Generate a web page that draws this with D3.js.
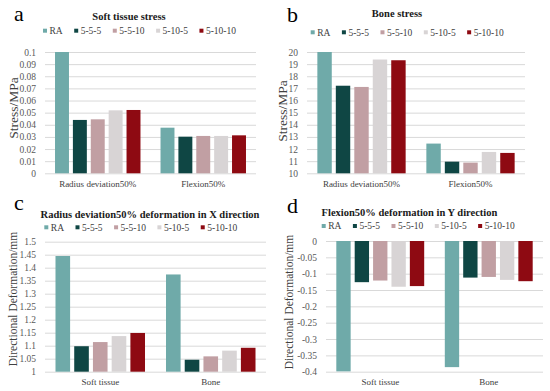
<!DOCTYPE html>
<html>
<head>
<meta charset="utf-8">
<script src="https://cdn.jsdelivr.net/npm/d3@7/dist/d3.min.js"></script>
<style>
  html, body { margin: 0; padding: 0; background: #fff; }
  svg { display: block; }
  svg text { font-family: "Liberation Serif", "Times New Roman", serif; }
</style>
</head>
<body>
<div id="chart"></div>
<script>
// series shared by all four panels
const series = ['RA', '5-5-5', '5-5-10', '5-10-5', '5-10-10'];
const seriesColors = ['#6faaa9', '#0f4644', '#c19fa3', '#d8d4d5', '#8e0a12'];

// a / b : stress per load case
const stressCategories = ['Radius deviation50%', 'Flexion50%'];
const softTissueStress = [
  [0.1, 0.044, 0.0445, 0.0519, 0.0522],
  [0.0376, 0.0302, 0.0308, 0.0308, 0.0313]
];
const boneStress = [
  [20.0, 17.22, 17.12, 19.38, 19.32],
  [12.45, 10.96, 10.88, 11.76, 11.68]
];

// c / d : deformation per tissue
const deformCategories = ['Soft tissue', 'Bone'];
const deformX = [
  [1.445, 1.098, 1.114, 1.137, 1.149],
  [1.374, 1.046, 1.059, 1.081, 1.092]
];
const deformY = [
  [-0.399, -0.126, -0.121, -0.140, -0.138],
  [-0.386, -0.112, -0.110, -0.119, -0.123]
];

// tick labels
const softTicks = [0, 0.01, 0.02, 0.03, 0.04, 0.05, 0.06, 0.07, 0.08, 0.09, 0.1];
const boneTicks = [10, 11, 12, 13, 14, 15, 16, 17, 18, 19, 20];
const deformXTicks = [1, 1.05, 1.1, 1.15, 1.2, 1.25, 1.3, 1.35, 1.4, 1.45, 1.5];
const deformYTicks = [0, -0.05, -0.1, -0.15, -0.2, -0.25, -0.3, -0.35, -0.4];

const svg = d3.select('#chart').append('svg')
    .attr('width', 550)
    .attr('height', 391);

svg.append('rect').attr('width', 550).attr('height', 391).attr('fill', '#fff');

const fmt = (v) => String(+v.toFixed(3));

function drawPanel(p) {
  const g = svg.append('g');

  const y = d3.scaleLinear()
      .domain(d3.extent(p.ticks))
      .range([p.bottom, p.top]);

  const x0 = d3.scaleBand()
      .domain(p.categories)
      .range([p.left, p.right]);
  const bw = x0.bandwidth();
  const x1 = d3.scaleBand()
      .domain(series)
      .range([bw * 0.095, bw * 0.905])
      .paddingInner(0.22);

  // gridlines
  g.append('g')
      .attr('transform', `translate(${p.left},0)`)
      .call(d3.axisLeft(y).tickValues(p.ticks).tickSize(-(p.right - p.left)).tickFormat(''))
      .call(s => s.select('.domain').remove())
      .call(s => s.selectAll('line').attr('stroke', '#d9d9d9').attr('stroke-width', 1));

  // tick labels
  g.append('g')
      .attr('transform', `translate(${p.left - 9},0)`)
      .call(d3.axisLeft(y).tickValues(p.ticks).tickSize(0).tickPadding(0).tickFormat(fmt))
      .attr('font-family', null)
      .attr('font-size', '9.5')
      .call(s => s.select('.domain').remove())
      .call(s => s.selectAll('text').attr('fill', '#595959'));

  // bars
  const base = y(p.base);
  p.categories.forEach((cat, ci) => {
    g.append('g')
        .attr('transform', `translate(${x0(cat)},0)`)
      .selectAll('rect')
      .data(p.values[ci])
      .join('rect')
        .attr('x', (d, i) => x1(series[i]))
        .attr('width', x1.bandwidth())
        .attr('y', d => Math.min(y(d), base))
        .attr('height', d => Math.abs(y(d) - base))
        .attr('fill', (d, i) => seriesColors[i]);
  });

  // category labels
  g.append('g')
      .attr('transform', `translate(0,${p.bottom})`)
      .call(d3.axisBottom(x0).tickSize(0).tickPadding(p.catPad))
      .attr('font-family', null)
      .attr('font-size', '9')
      .call(s => s.select('.domain').remove())
      .call(s => s.selectAll('text').attr('fill', '#404040'));

  // y axis title
  g.append('text')
      .attr('transform', `translate(${p.yTitleX},${p.yTitleY}) rotate(-90)`)
      .attr('text-anchor', 'middle')
      .attr('fill', '#404040')
      .attr('font-size', p.yTitleSize)
      .text(p.yTitle);

  // chart title
  g.append('text')
      .attr('x', p.titleX)
      .attr('y', p.titleY)
      .attr('text-anchor', 'middle')
      .attr('fill', '#1a1a1a')
      .attr('font-size', 10.5)
      .attr('font-weight', 'bold')
      .text(p.title);

  // legend
  const leg = g.append('g').attr('transform', `translate(${p.legendX},${p.legendY})`);
  let lx = 0;
  series.forEach((name, i) => {
    leg.append('rect')
        .attr('x', lx).attr('y', -2)
        .attr('width', 4).attr('height', 4)
        .attr('fill', seriesColors[i]);
    const t = leg.append('text')
        .attr('x', lx + 6.5).attr('y', 3.3)
        .attr('fill', '#404040')
        .attr('font-size', 9.5)
        .text(name);
    lx += 6.5 + t.node().getComputedTextLength() + 11.5;
  });

  // panel letter
  g.append('text')
      .attr('x', p.letterX)
      .attr('y', p.letterY)
      .attr('fill', '#000')
      .attr('font-size', 22)
      .text(p.letter);
}

drawPanel({
  letter: 'a', letterX: 14, letterY: 21,
  title: 'Soft tissue stress', titleX: 129, titleY: 19.5,
  legendX: 43, legendY: 30.7,
  yTitle: 'Stress/MPa', yTitleX: 17.5, yTitleY: 108, yTitleSize: 13.5,
  categories: stressCategories, values: softTissueStress,
  ticks: softTicks, base: 0,
  left: 45, right: 256, top: 52, bottom: 173.3, catPad: 7
});

drawPanel({
  letter: 'b', letterX: 287, letterY: 21.5,
  title: 'Bone stress', titleX: 397, titleY: 17,
  legendX: 310.7, legendY: 32.3,
  yTitle: 'Stress/MPa', yTitleX: 286.5, yTitleY: 111, yTitleSize: 13.5,
  categories: stressCategories, values: boneStress,
  ticks: boneTicks, base: 10,
  left: 307, right: 525, top: 52, bottom: 173.3, catPad: 7
});

drawPanel({
  letter: 'c', letterX: 14, letterY: 210,
  title: 'Radius deviation50% deformation in X direction', titleX: 150, titleY: 217.5,
  legendX: 44.3, legendY: 227.3,
  yTitle: 'Directional Deformation/mm', yTitleX: 16.5, yTitleY: 299, yTitleSize: 11.5,
  categories: deformCategories, values: deformX,
  ticks: deformXTicks, base: 1,
  left: 45, right: 266, top: 241.7, bottom: 371.7, catPad: 6.5
});

drawPanel({
  letter: 'd', letterX: 287, letterY: 213,
  title: 'Flexion50% deformation in Y direction', titleX: 409.5, titleY: 215.5,
  legendX: 321.7, legendY: 226,
  yTitle: 'Directional Deformation/mm', yTitleX: 293, yTitleY: 302, yTitleSize: 11.5,
  categories: deformCategories, values: deformY,
  ticks: deformYTicks, base: 0,
  left: 326, right: 543, top: 241, bottom: 371.7, catPad: 6.5
});
</script>
</body>
</html>
